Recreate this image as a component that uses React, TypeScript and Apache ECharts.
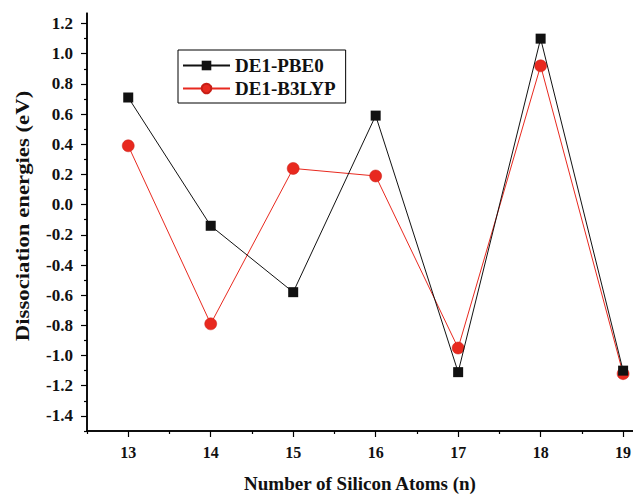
import React, { useEffect, useRef } from "react";
import * as echarts from "echarts";

const atoms = [13, 14, 15, 16, 17, 18, 19];
const pbe0 = [0.71, -0.14, -0.58, 0.59, -1.11, 1.1, -1.1];
const b3lyp = [0.39, -0.79, 0.24, 0.19, -0.95, 0.92, -1.12];
const xMajorTicks = [13, 14, 15, 16, 17, 18, 19];
const xMinorTicks = [12.5, 13.5, 14.5, 15.5, 16.5, 17.5, 18.5];
const yMajorTicks = [-1.4, -1.2, -1.0, -0.8, -0.6, -0.4, -0.2, 0.0, 0.2, 0.4, 0.6, 0.8, 1.0, 1.2];
const yMinorTicks = [-1.5, -1.3, -1.1, -0.9, -0.7, -0.5, -0.3, -0.1, 0.1, 0.3, 0.5, 0.7, 0.9, 1.1];

const FONT = "'Liberation Serif', 'Times New Roman', serif";
const X_MIN = 12.5;
const X_MAX = 19.12;
const Y_MIN = -1.5;
const Y_MAX = 1.27;

const W = 633;
const H = 494;
const GRID = { left: 87, top: 13, right: 0, bottom: 63 };

export default function App() {
  const ref = useRef<HTMLDivElement>(null);
  useEffect(() => {
    if (!ref.current) return;
    const chart = echarts.init(ref.current, undefined, { renderer: "svg" });
    const xRange = { min: X_MIN, max: X_MAX };
    const yRange = { min: Y_MIN, max: Y_MAX };
    const axisY = H - GRID.bottom;
    chart.setOption({
      animation: false,
      backgroundColor: "#ffffff",
      textStyle: { fontFamily: FONT },
      grid: { ...GRID, containLabel: false, outerBoundsMode: "none" },
      graphic: [
        {
          type: "text",
          x: 23,
          y: 216,
          rotation: Math.PI / 2,
          scaleX: 1.2,
          style: {
            text: "Dissociation energies (eV)",
            fontFamily: FONT,
            fontWeight: "bold",
            fontSize: 19,
            fill: "#111",
            align: "center",
            verticalAlign: "middle",
          },
        },
        {
          type: "line",
          z: 100,
          shape: { x1: GRID.left, y1: GRID.top, x2: GRID.left, y2: axisY + 1 },
          style: { stroke: "#000", lineWidth: 1.5 },
        },
        {
          type: "line",
          z: 100,
          shape: { x1: GRID.left - 1, y1: axisY, x2: W - GRID.right, y2: axisY },
          style: { stroke: "#000", lineWidth: 1.5 },
        },
      ],
      legend: {
        orient: "vertical",
        left: 178,
        top: 50,
        padding: [6, 10, 5, 4],
        itemGap: 4,
        itemWidth: 47,
        itemHeight: 12,
        borderColor: "#000",
        borderWidth: 1,
        borderRadius: 0,
        textStyle: { fontFamily: FONT, fontWeight: "bold", fontSize: 19, color: "#111" },
        data: ["DE1-PBE0", "DE1-B3LYP"],
      },
      xAxis: [
        {
          type: "value",
          ...xRange,
          name: "Number of Silicon Atoms (n)",
          nameLocation: "middle",
          nameGap: 43,
          nameTextStyle: { fontFamily: FONT, fontWeight: "bold", fontSize: 19, color: "#111" },
          splitLine: { show: false },
          axisLine: { show: true, onZero: false, lineStyle: { color: "#000", width: 1.5 } },
          axisTick: { show: true, inside: false, length: 6, customValues: xMajorTicks, lineStyle: { color: "#000", width: 1.2 } },
          axisLabel: {
            customValues: xMajorTicks,
            margin: 13,
            fontFamily: FONT,
            fontWeight: "bold",
            fontSize: 16,
            color: "#111",
          },
        },
        {
          type: "value",
          ...xRange,
          position: "bottom",
          offset: 0,
          splitLine: { show: false },
          axisLine: { show: false, onZero: false },
          axisTick: { show: true, length: 3, customValues: xMinorTicks, lineStyle: { color: "#000", width: 1.2 } },
          axisLabel: { show: false },
        },
      ],
      yAxis: [
        {
          type: "value",
          ...yRange,
          splitLine: { show: false },
          axisLine: { show: true, onZero: false, lineStyle: { color: "#000", width: 1.5 } },
          axisTick: { show: true, inside: false, length: 6, customValues: yMajorTicks, lineStyle: { color: "#000", width: 1.2 } },
          axisLabel: {
            customValues: yMajorTicks,
            formatter: (v: number) => v.toFixed(1),
            margin: 14,
            fontFamily: FONT,
            fontWeight: "bold",
            fontSize: 17,
            color: "#111",
          },
        },
        {
          type: "value",
          ...yRange,
          position: "left",
          offset: 0,
          splitLine: { show: false },
          axisLine: { show: false, onZero: false },
          axisTick: { show: true, length: 3, customValues: yMinorTicks, lineStyle: { color: "#000", width: 1.2 } },
          axisLabel: { show: false },
        },
      ],
      series: [
        {
          name: "DE1-PBE0",
          type: "line",
          xAxisIndex: 0,
          yAxisIndex: 0,
          data: atoms.map((a, i) => [a, pbe0[i]]),
          symbol: "rect",
          symbolSize: 10,
          itemStyle: { color: "#111" },
          lineStyle: { color: "#111", width: 1 },
          z: 3,
        },
        {
          name: "DE1-B3LYP",
          type: "line",
          xAxisIndex: 0,
          yAxisIndex: 0,
          data: atoms.map((a, i) => [a, b3lyp[i]]),
          symbol: "circle",
          symbolSize: 12,
          itemStyle: { color: "#e8291f", borderColor: "#c81e16", borderWidth: 0.5 },
          lineStyle: { color: "#e8291f", width: 1 },
          z: 2,
        },
      ],
    });
    return () => chart.dispose();
  }, []);
  return (
    <div
      ref={ref}
      style={{ position: "absolute", left: 0, top: 0, width: W, height: H }}
    />
  );
}
